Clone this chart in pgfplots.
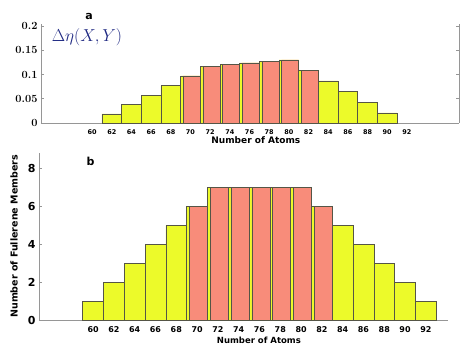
\documentclass[border=0pt]{standalone}
\usepackage{pgfplots}
\pgfplotsset{compat=1.18}
\usepackage{pgfplotstable}
\usepackage{fontspec}
\setsansfont{DejaVu Sans}

\definecolor{baryellow}{RGB}{236,250,42}
\definecolor{barsalmon}{RGB}{248,140,122}
\definecolor{baredge}{RGB}{85,85,70}
\definecolor{axgray}{RGB}{150,150,150}
\definecolor{etanavy}{RGB}{30,40,130}

% panel a: Delta eta(X,Y) per size
\pgfplotstableread{
n v
62 0.019
64 0.038
66 0.057
68 0.077
70 0.097
72 0.117
74 0.121
76 0.124
78 0.127
80 0.130
82 0.108
84 0.087
86 0.065
88 0.043
90 0.021
}\deltaeta

% panel b: number of fullerene members
\pgfplotstableread{
n c
60 1
62 2
64 3
66 4
68 5
70 6
72 7
74 7
76 7
78 7
80 7
82 6
84 5
86 4
88 3
90 2
92 1
}\members

\begin{document}
\begin{tikzpicture}
\useasboundingbox (0,0) rectangle (464pt,350pt);
\pgfplotsset{
  panel/.style={
    scale only axis, anchor=south west,
    axis x line*=bottom,
    axis line style={axgray, line width=0.8pt},
    every tick/.style={axgray, line width=0.6pt},
    major tick length=3pt,
    tick align=inside,
    ybar, bar width=2,
    xtick={60,62,...,92},
    x tick style={draw=none},
    ymin=0, clip=false,
    /pgf/number format/assume math mode=true,
    scaled y ticks=false,
  },
}
% ---- panel a
\begin{axis}[panel,
  at={(41pt,227pt)}, width=418pt, height=99pt,
  xmin=54.8, xmax=97.3, ymax=0.204,
  axis y line*=box,
  ytick={0,0.05,0.1,0.15,0.2},
  yticklabels={0,0.05,0.1,0.15,0.2},
  yticklabel style={font=\fontsize{11}{12}\selectfont\bfseries},
  xticklabel style={font=\sffamily\bfseries\fontsize{6.5}{8}\selectfont},
  xlabel={Number of Atoms},
  xlabel style={font=\sffamily\bfseries\fontsize{9}{10}\selectfont,
    at={(axis description cs:0.514,0)}, anchor=center, yshift=-17pt},
]
\addplot[fill=baryellow, draw=baredge, bar shift=0] table[x=n,y=v] {\deltaeta};
\addplot[fill=barsalmon, draw=baredge, bar width=1.74, bar shift=0.13,
  restrict x to domain=69:83] table[x=n,y=v] {\deltaeta};
\node[font=\sffamily\bfseries\fontsize{11}{12}\selectfont] at (axis description cs:0.115,1.08) {a};
\node[text=etanavy, font=\fontsize{17}{20}\selectfont] at (axis description cs:0.11,0.87) {$\Delta\eta(X,Y)$};
\end{axis}
% ---- panel b
\begin{axis}[panel,
  at={(39pt,30pt)}, width=408.7pt, height=167.3pt,
  xmin=54.8, xmax=94.1, ymax=8.85,
  axis y line*=left,
  ytick={0,2,...,8},
  yticklabel style={font=\sffamily\bfseries\fontsize{11}{13}\selectfont},
  xticklabel style={font=\sffamily\bfseries\fontsize{8}{10}\selectfont},
  xlabel={Number of Atoms},
  xlabel style={font=\sffamily\bfseries\fontsize{8.5}{10}\selectfont,
    at={(axis description cs:0.538,0)}, anchor=center, yshift=-20pt},
  ylabel={Number of Fullerene Members},
  ylabel style={font=\sffamily\bfseries\fontsize{9.5}{11}\selectfont,
    at={(axis description cs:-0.061,0.5)}, anchor=center},
]
\addplot[fill=baryellow, draw=baredge, bar shift=0] table[x=n,y=c] {\members};
\addplot[fill=barsalmon, draw=baredge, bar width=1.74, bar shift=0.13,
  restrict x to domain=69:83] table[x=n,y=c] {\members};
\node[font=\sffamily\bfseries\fontsize{11}{12}\selectfont] at (axis description cs:0.126,0.946) {b};
\end{axis}
\end{tikzpicture}
\end{document}
